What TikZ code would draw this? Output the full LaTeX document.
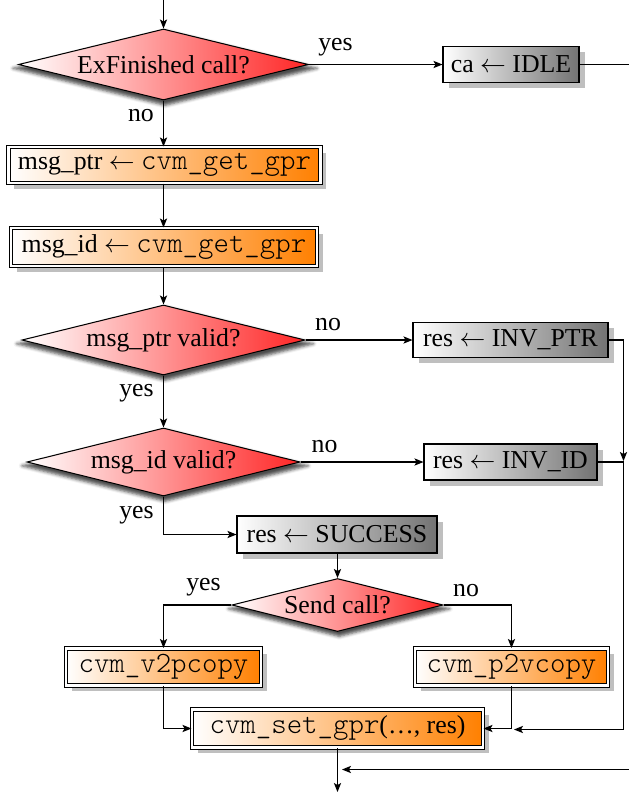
\documentclass[tikz,border=0pt]{standalone}
\usepackage{fontspec}
\setmainfont{Liberation Serif}
\setmonofont{lmmonolt10-regular.otf}[Scale=1.14]
\usetikzlibrary{shapes.geometric,shadows,shadows.blur,arrows.meta}
\newcommand\pxu{0.3876pt}
\begin{document}
\begin{tikzpicture}[x=0.3876pt,y=-0.3876pt,
  dia/.style={diamond, draw, aspect=4, inner sep=0pt, left color=white, right color=red!85,
    blur shadow={shadow xshift=0.6pt, shadow yshift=-1.4pt, shadow scale=1.05, shadow blur radius=1.2pt, shadow opacity=70}},
  gbox/.style={rectangle, draw, inner sep=0pt, left color=white, right color=black!55, drop shadow},
  obox/.style={rectangle, draw, double, double distance=1pt, inner sep=0pt, left color=white, right color=orange, drop shadow},
  arr/.style={-{Stealth[length=3.5pt,width=2.8pt,inset=0.8pt]}},
  lbl/.style={anchor=base, inner sep=0pt}]
\useasboundingbox (0,0) rectangle (629,794);

% decisions
\node[dia, minimum width=290*\pxu, minimum height=71*\pxu] (d1) at (163.5,64.5) {ExFinished call?};
\node[dia, minimum width=283*\pxu, minimum height=70*\pxu] (d2) at (163.5,340) {msg\_ptr valid?};
\node[dia, minimum width=273*\pxu, minimum height=68*\pxu] (d3) at (163.5,462) {msg\_id valid?};
\node[dia, minimum width=211*\pxu, minimum height=53*\pxu] (d4) at (337.5,605) {Send call?};

% gray boxes
\node[gbox, minimum width=136*\pxu, minimum height=36*\pxu] (idle) at (511,64.5) {ca $\leftarrow$ IDLE};
\node[gbox, minimum width=195*\pxu, minimum height=35*\pxu] (invptr) at (510.5,340) {res $\leftarrow$ INV\_PTR};
\node[gbox, minimum width=173*\pxu, minimum height=36*\pxu] (invid) at (510.5,462) {res $\leftarrow$ INV\_ID};
\node[gbox, minimum width=200*\pxu, minimum height=37*\pxu] (succ) at (337,534.5) {res $\leftarrow$ SUCCESS};

% orange boxes
\node[obox, minimum width=312*\pxu, minimum height=36*\pxu] (msgptr) at (164.5,165) {msg\_ptr $\leftarrow$ \texttt{cvm\_get\_gpr}};
\node[obox, minimum width=306*\pxu, minimum height=38*\pxu] (msgid) at (164,247) {msg\_id $\leftarrow$ \texttt{cvm\_get\_gpr}};
\node[obox, minimum width=195*\pxu, minimum height=37*\pxu] (v2p) at (163.5,667) {\texttt{cvm\_v2pcopy}};
\node[obox, minimum width=193*\pxu, minimum height=37*\pxu] (p2v) at (511.5,667) {\texttt{cvm\_p2vcopy}};
\node[obox, minimum width=291*\pxu, minimum height=38*\pxu] (setgpr) at (337.5,728.5) {\texttt{cvm\_set\_gpr}(\ldots, res)};

% labels
\node[lbl] (l1) at (335.5,50) {yes};
\node[lbl] (l2) at (141,121.5) {no};
\node[lbl] (l3) at (328,330.5) {no};
\node[lbl] (l4) at (136.5,396.5) {yes};
\node[lbl] (l5) at (324.5,452.5) {no};
\node[lbl] (l6) at (136.5,518.5) {yes};
\node[lbl] (l7) at (203.5,590) {yes};
\node[lbl] (l8) at (466,596.5) {no};

% coordinates
\coordinate (start) at (163.5,0);
\coordinate (retr) at (645,769.5);
\coordinate (retm) at (342,769.5);
\coordinate (jn) at (623.5,461);
\coordinate (cr) at (623.5,729.5);
\coordinate (jp) at (514,729.5);
\coordinate (fin) at (337.5,792);

% connectors
\draw[arr] (start) -- (d1.north);
\draw[arr] (d1.east) -- (idle.west);
\draw[arr] (d1.south) -- (d1.south |- msgptr.north);
\draw[arr] (msgptr.south -| d1.south) -- (d1.south |- msgid.north);
\draw[arr] (msgid.south -| d1.south) -- (d2.north -| d1.south);
\draw[arr] (d2.east) -- (invptr.west);
\draw[arr] (d2.south) -- (d3.north);
\draw[arr] (d3.east) -- (invid.west);
\draw[arr] (d3.south) |- (succ.west);
\draw[arr] (succ.south -| d4.north) -- (d4.north);
\draw[arr] (d4.west) -| (v2p.north);
\draw[arr] (d4.east) -| (p2v.north);
\draw[arr] (v2p.south) |- (setgpr.west);
\draw[arr] (p2v.south) |- (setgpr.east);
\draw[arr] (invptr.east) -| (jn);
\draw[arr] (invid.east) -| (cr) -- (jp);
\draw[arr] (idle.east) -| (retr) -- (retm);
\draw[arr] (setgpr.south) -- (fin);
\end{tikzpicture}
\end{document}
